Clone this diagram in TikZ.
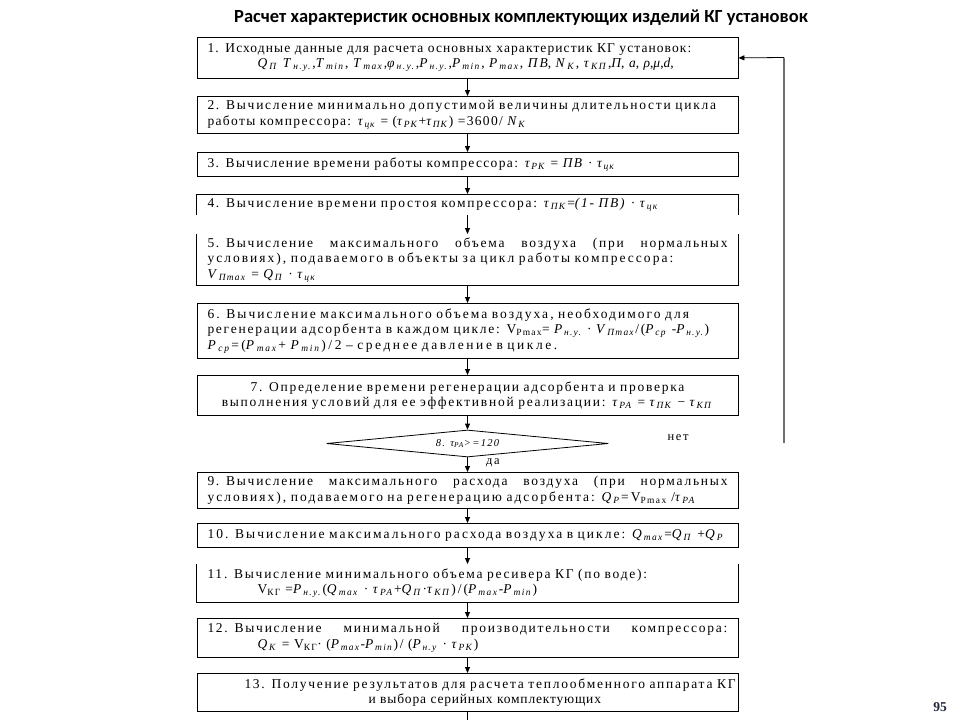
\documentclass[tikz,border=0pt]{standalone}
\usepackage{fontspec}
\setmainfont[LetterSpace=13]{Liberation Serif}
\newfontfamily\boxonefont[LetterSpace=8]{Liberation Serif}
\newfontfamily\lsnarrow[LetterSpace=6]{Liberation Serif}
\newfontfamily\lsless[LetterSpace=10]{Liberation Serif}
\newfontfamily\lsmore[LetterSpace=15]{Liberation Serif}
\newfontfamily\lswide[LetterSpace=19]{Liberation Serif}
\newfontfamily\titlefont{Carlito}
\newfontfamily\numfont{Liberation Serif}
\usetikzlibrary{arrows.meta,shapes.geometric}
\definecolor{pagenum}{RGB}{30,35,60}
\definecolor{loopgray}{RGB}{110,110,110}
\newcommand\vv[2]{\textit{#1}\textsubscript{\textit{#2}}}
\newcommand\jline[1]{\hbox to 520pt{\spaceskip=0.25em plus 1fil\relax #1}}
\newcommand\oneline[1]{\mbox{#1}}
\begin{document}
\begin{tikzpicture}[x=1pt,y=-1pt,
  box/.style={minimum width=541pt, minimum height=#1, text width=520pt,
    inner xsep=10.5pt, inner ysep=0pt, anchor=north,
    font=\fontsize{13.5}{15.5}\selectfont, align=left},
  framed/.style={draw, line width=0.8pt},
  edge/.style={line width=0.8pt},
  arr/.style={-{Triangle[length=6pt,width=5pt]}, line width=0.8pt},
  lbl/.style={font=\fontsize{12.5}{15}\selectfont, inner sep=0pt}]
\useasboundingbox (0,0) rectangle (960,720);

\node[font=\titlefont\bfseries\fontsize{18.5}{21}\selectfont, inner sep=0pt] (title) at (521,18)
  {Расчет характеристик основных комплектующих изделий КГ установок};

\node[box=41pt, framed, font=\boxonefont\fontsize{13.5}{15}\selectfont] (b1) at (467.5,37)
  {\oneline{1. Исходные данные для расчета основных характеристик КГ установок:}\\
   \hspace*{50pt}\oneline{\lsmore \vv{Q}{П} \vv{T}{н.у.},\vv{T}{min}, \vv{T}{max},\vv{φ}{н.у.},\vv{P}{н.у.},\vv{P}{min}, \vv{P}{max}, \textit{ПВ}, \vv{N}{K}, \vv{τ}{КП},\textit{П}, \textit{a}, \textit{ρ},\textit{μ},\textit{d},}};

\node[box=37pt, framed] (b2) at (467.5,96)
  {\oneline{2. Вычисление минимально допустимой величины длительности цикла}\\
   \oneline{\lsless работы компрессора: \vv{τ}{цк} = (\vv{τ}{РК}+\vv{τ}{ПК}) =3600/ \vv{N}{K}}};

\node[box=24pt, framed] (b3) at (467.5,152)
  {\oneline{\lsless 3. Вычисление времени работы компрессора: \vv{τ}{РК} = \textit{ПВ} · \vv{τ}{цк}}};

\node[box=21pt] (b4) at (467.5,194)
  {\oneline{4. Вычисление времени простоя компрессора: \vv{τ}{ПК}=\textit{(1- ПВ)} · \vv{τ}{цк}}};
\draw[edge] (b4.south west) -- (b4.north west) -- (b4.north east) -- (b4.south east);

\node[box=51pt] (b5) at (467.5,234)
  {\jline{5. Вычисление максимального объема воздуха (при нормальных}\\
   \oneline{\lsmore условиях), подаваемого в объекты за цикл работы компрессора:}\\
   \vv{V}{Пmax} = \vv{Q}{П} · \vv{τ}{цк}};
\draw[edge] (b5.north west) -- (b5.south west) -- (b5.south east) -- (b5.north east);

\node[box=55pt, framed] (b6) at (467.5,303)
  {\oneline{\lsmore 6. Вычисление максимального объема воздуха, необходимого для}\\
   \oneline{регенерации адсорбента в каждом цикле: V\textsubscript{Pmax}= \vv{P}{н.у.} · \vv{V}{Пmax}/(\vv{P}{ср} -\vv{P}{н.у.})}\\
   \oneline{\lswide \vv{P}{ср}=(\vv{P}{max}+ \vv{P}{min})/2 – среднее давление в цикле.}};

\node[box=40pt, framed, align=center] (b7) at (467.5,375)
  {\oneline{7. Определение времени регенерации адсорбента и проверка}\\
   \oneline{выполнения условий для ее эффективной реализации: \vv{τ}{РА} = \vv{τ}{ПК} − \vv{τ}{КП}}};

\node[diamond, shape aspect=10.4, draw, line width=0.8pt, minimum width=282pt, minimum height=27pt, inner sep=0pt,
  font=\itshape\fontsize{10.5}{12}\selectfont] (d8) at (467.5,443.5)
  {8. \vv{τ}{РА}>=120};

\node[lbl] (no) at (678,438) {нет};
\node[lbl] (yes) at (493,463) {да};

\node[box=36pt, framed] (b9) at (467.5,472)
  {\jline{9. Вычисление максимального расхода воздуха (при нормальных}\\
   \oneline{\lsmore условиях), подаваемого на регенерацию адсорбента: \vv{Q}{Р}=V\textsubscript{Pmax} /\vv{τ}{РА}}};

\node[box=24pt, framed] (b10) at (467.5,523)
  {\oneline{\lsmore 10. Вычисление максимального расхода воздуха в цикле: \vv{Q}{max}=\vv{Q}{П} +\vv{Q}{Р}}};

\node[box=38pt] (b11) at (467.5,564)
  {\oneline{11. Вычисление минимального объема ресивера КГ (по воде):}\\
   \hspace*{50pt}\oneline{\lsmore V\textsubscript{КГ} =\vv{P}{н.у.}(\vv{Q}{max} · \vv{τ}{РА}+\vv{Q}{П}·\vv{τ}{КП})/(\vv{P}{max}-\vv{P}{min})}};
\draw[edge] (b11.north west) -- (b11.south west) -- (b11.south east) -- (b11.north east);

\node[box=39pt, framed] (b12) at (467.5,618)
  {\jline{12. Вычисление минимальной производительности компрессора:}\\
   \hspace*{50pt}\oneline{\vv{Q}{К} = V\textsubscript{КГ}· (\vv{P}{max}-\vv{P}{min})/ (\vv{P}{н.у} · \vv{τ}{РК})}};

\node[box=38pt, framed] (b13) at (467.5,673)
  {\hspace*{37pt}\oneline{13. Получение результатов для расчета теплообменного аппарата КГ}\\
   \hspace*{161pt}\oneline{\lsnarrow и выбора серийных комплектующих}};

\coordinate (loopstart) at (784,443);
\coordinate (loopturn) at (784,57.5);
\coordinate (bottomend) at (467.5,720);

\draw[arr] (b1.south) -- (b2.north);
\draw[arr] (b2.south) -- (b3.north);
\draw[arr] (b3.south) -- (b4.north);
\draw[arr] (b4.south) -- (b5.north);
\draw[arr] (b5.south) -- (b6.north);
\draw[arr] (b6.south) -- (b7.north);
\draw[arr] (b7.south) -- (d8.north);
\draw[arr] (d8.south) -- (b9.north);
\draw[arr] (b9.south) -- (b10.north);
\draw[arr] (b10.south) -- (b11.north);
\draw[arr] (b11.south) -- (b12.north);
\draw[arr] (b12.south) -- (b13.north);
\draw[edge] (b13.south) -- (bottomend);
\draw[loopgray, line width=1.2pt] (loopstart) -- (loopturn);
\draw[arr] (loopturn) -- (b1.east);

\node[font=\numfont\bfseries\fontsize{13.5}{15}\selectfont, text=pagenum, inner sep=0pt] (pnum) at (940,707) {95};
\end{tikzpicture}
\end{document}
